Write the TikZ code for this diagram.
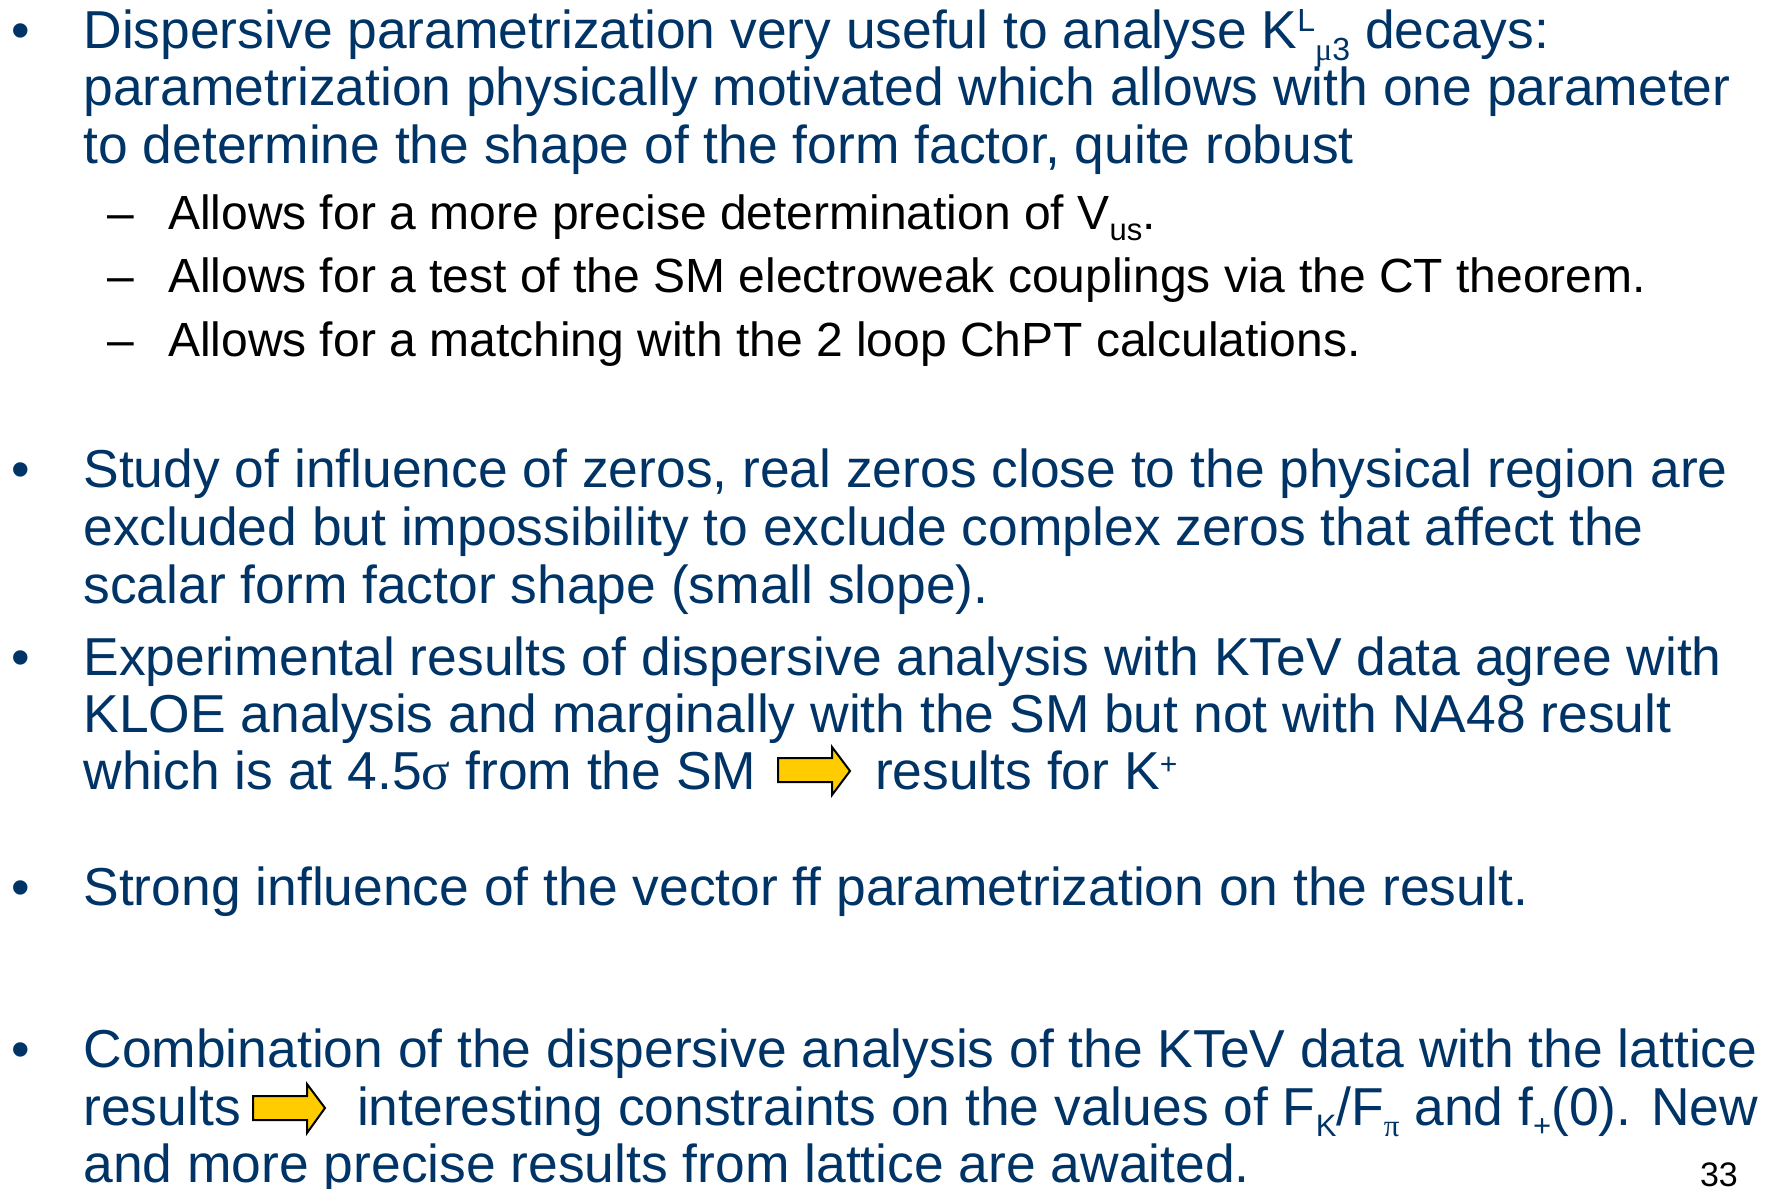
\documentclass[tikz,border=0pt]{standalone}
\usepackage{fontspec}
\setmainfont{Liberation Sans}
\newfontfamily\grk{Liberation Serif}
\definecolor{navy}{RGB}{0,51,102}
\definecolor{arrowgold}{RGB}{255,204,0}
\newcommand{\supA}[1]{\raisebox{17pt}{\fontsize{32}{32}\selectfont #1}}
\newcommand{\subA}[1]{\raisebox{-12pt}{\fontsize{32}{32}\selectfont #1}}
\newcommand{\supB}[1]{\raisebox{15pt}{\fontsize{30}{30}\selectfont #1}}
\newcommand{\subB}[1]{\raisebox{-11pt}{\fontsize{31}{31}\selectfont #1}}
\tikzset{
  mainline/.style={anchor=base west, inner sep=0pt, outer sep=0pt, text=navy, font=\fontsize{53.4}{60}\selectfont},
  subline/.style={anchor=base west, inner sep=0pt, outer sep=0pt, text=black, font=\fontsize{48}{55}\selectfont},
  bulletmark/.style={anchor=base west, inner sep=0pt, outer sep=0pt, text=navy, font=\fontsize{53}{60}\selectfont},
  pagenum/.style={anchor=base west, inner sep=0pt, outer sep=0pt, text=black, font=\fontsize{34}{40}\selectfont},
  blockarrow/.style={draw=black, line width=2pt, fill=arrowgold, line join=miter}
}
\begin{document}
\begin{tikzpicture}[x=1pt,y=-1pt]
\useasboundingbox (0,0) rectangle (1776,1188);
% bullet 1
\node[bulletmark] (b1) at (12,48.5) {•};
\node[mainline] (t11) at (83.5,48.5) {Dispersive parametrization very useful to analyse K\supA{L}\subA{{\grk μ}3} decays:};
\node[mainline] (t12) at (83.5,105.5) {parametrization physically motivated which allows with one parameter};
\node[mainline] (t13) at (83.5,163) {to determine the shape of the form factor, quite robust};
% sub bullets
\node[subline] (d1) at (107,229) {–};
\node[subline] (s1) at (168,229) {Allows for a more precise determination of V\subB{us}.};
\node[subline] (d2) at (107,292.5) {–};
\node[subline] (s2) at (168,292.5) {Allows for a test of the SM electroweak couplings via the CT theorem.};
\node[subline] (d3) at (107,356) {–};
\node[subline] (s3) at (168,356) {Allows for a matching with the 2 loop ChPT calculations.};
% bullet 2
\node[bulletmark] (b2) at (12,487) {•};
\node[mainline] (t21) at (83.5,487) {Study of influence of zeros, real zeros close to the physical region are};
\node[mainline] (t22) at (83.5,545) {excluded but impossibility to exclude complex zeros that affect the};
\node[mainline] (t23) at (83.5,603) {scalar form factor shape (small slope).};
% bullet 3
\node[bulletmark] (b3) at (12,675) {•};
\node[mainline] (t31) at (83.5,675) {Experimental results of dispersive analysis with KTeV data agree with};
\node[mainline] (t32) at (83.5,732) {KLOE analysis and marginally with the SM but not with NA48 result};
\node[mainline] (t33) at (83.5,789) {which is at 4.5{\grk σ} from the SM};
\draw[blockarrow] (778,758) -- (832,758) -- (832,747) -- (850,771) -- (832,795) -- (832,782) -- (778,782) -- cycle;
\node[mainline] (t33b) at (875,789) {results for K\supB{+}};
% bullet 4
\node[bulletmark] (b4) at (12,905) {•};
\node[mainline] (t41) at (83.5,905) {Strong influence of the vector ff parametrization on the result.};
% bullet 5
\node[bulletmark] (b5) at (12,1067) {•};
\node[mainline] (t51) at (83.5,1067) {Combination of the dispersive analysis of the KTeV data with the lattice};
\node[mainline] (t52) at (83.5,1125) {results};
\draw[blockarrow] (253,1096) -- (307,1096) -- (307,1084) -- (325,1108) -- (307,1133) -- (307,1120) -- (253,1120) -- cycle;
\node[mainline] (t52b) at (357,1125) {interesting constraints on the values of F\subB{K}/F\subB{{\grk π}} and f\subB{+}(0). New};
\node[mainline] (t53) at (83.5,1182) {and more precise results from lattice are awaited.};
\node[pagenum] (pg) at (1700,1186) {33};
\end{tikzpicture}
\end{document}
